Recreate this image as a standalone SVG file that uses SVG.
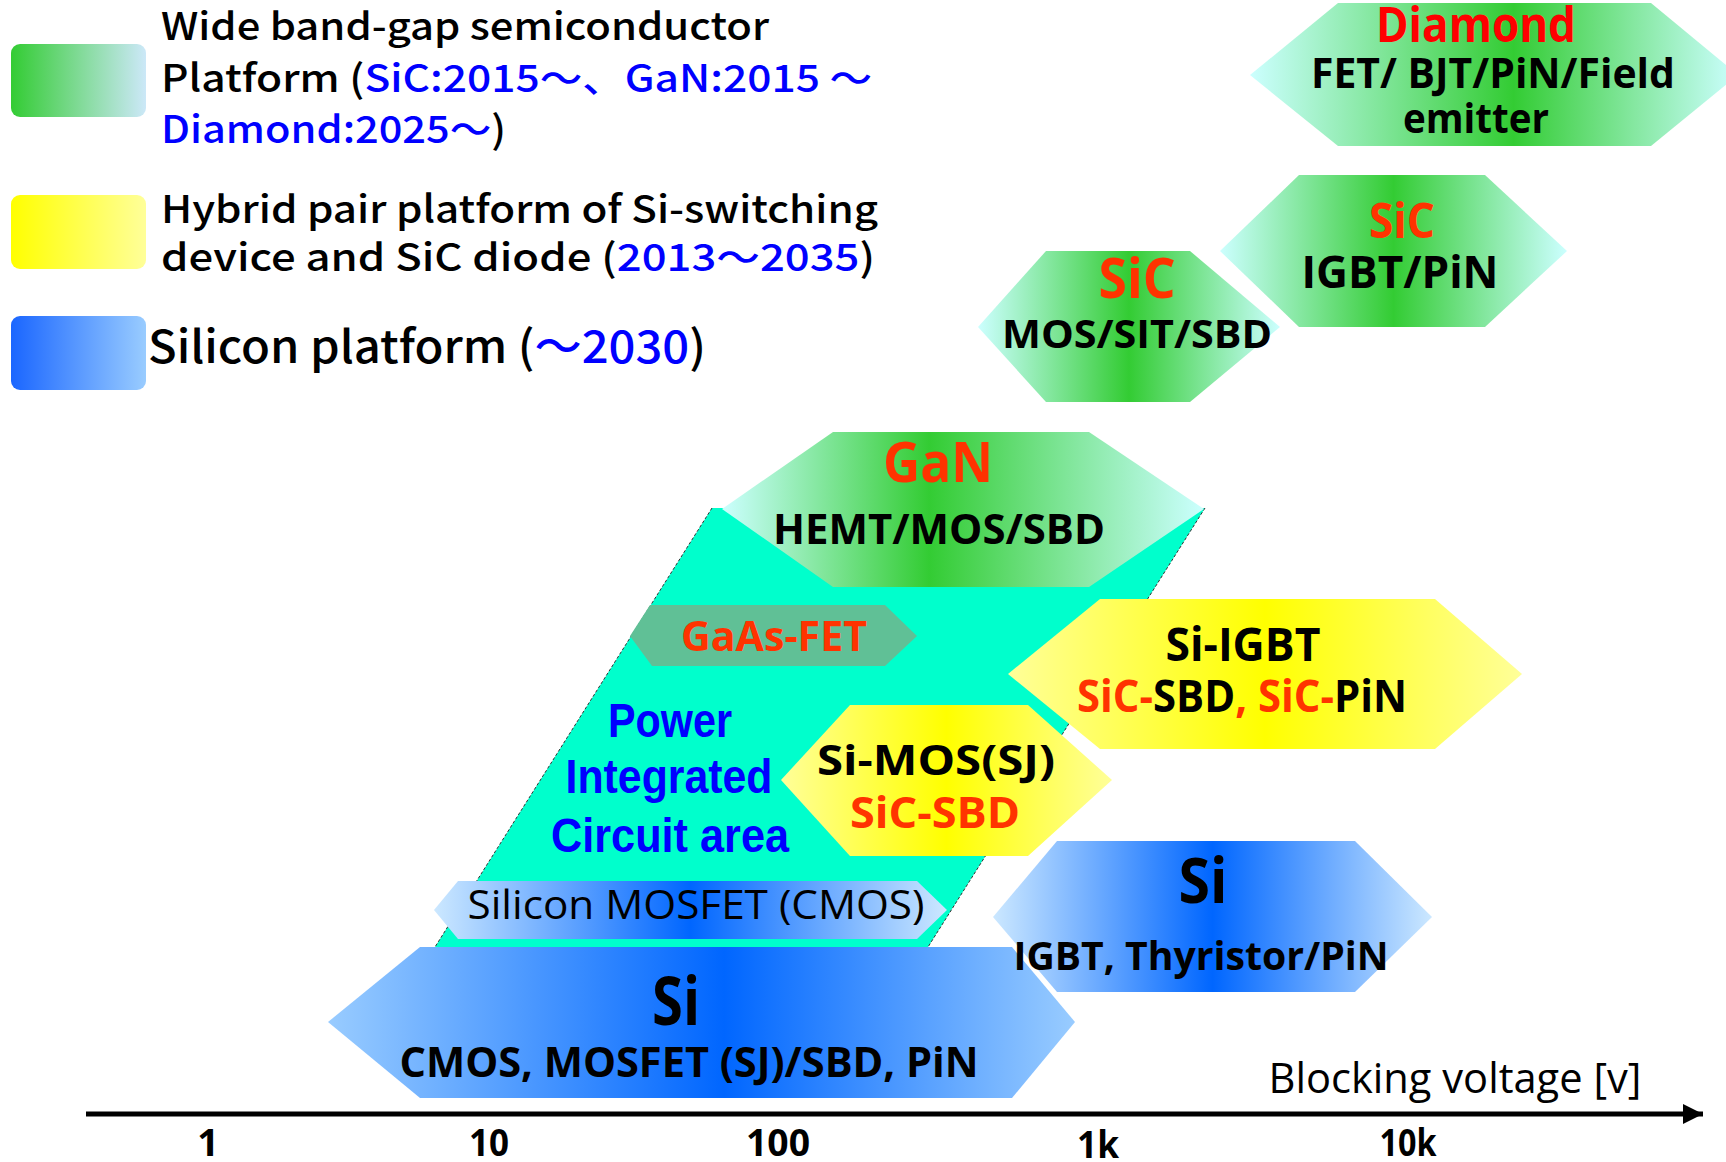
<svg xmlns="http://www.w3.org/2000/svg" width="1726" height="1162" viewBox="0 0 1726 1162">
<style>
.c{font-family:"Open Sans","Liberation Sans",sans-serif;font-weight:bold;text-anchor:middle;fill:#000}
.cr{font-family:"Open Sans","Liberation Sans",sans-serif;font-weight:normal;text-anchor:middle;fill:#000}
.red{fill:#ff3300}
.lg{font-family:"Noto Sans CJK JP","Noto Sans",sans-serif;font-weight:500;fill:#000}
.bl{fill:#0000ff}
.pic{font-family:"Liberation Sans",Arial,sans-serif;font-weight:bold;text-anchor:middle;fill:#0000ff}
</style>
<defs>
<linearGradient id="gG" x1="0" y1="0" x2="1" y2="0">
<stop offset="0" stop-color="#ccffff"/><stop offset="0.5" stop-color="#33cc33"/><stop offset="1" stop-color="#ccffff"/>
</linearGradient>
<linearGradient id="gGan" x1="0" y1="0" x2="1" y2="0">
<stop offset="0" stop-color="#ccffff"/><stop offset="0.43" stop-color="#33cc33"/><stop offset="1" stop-color="#ccffff"/>
</linearGradient>
<linearGradient id="gDia" x1="0" y1="0" x2="1" y2="0">
<stop offset="0" stop-color="#ccffff"/><stop offset="0.54" stop-color="#33cc33"/><stop offset="1" stop-color="#ccffff"/>
</linearGradient>
<linearGradient id="gY" x1="0" y1="0" x2="1" y2="0">
<stop offset="0" stop-color="#ffff99"/><stop offset="0.5" stop-color="#ffff00"/><stop offset="1" stop-color="#ffff99"/>
</linearGradient>
<linearGradient id="gB" x1="0" y1="0" x2="1" y2="0">
<stop offset="0" stop-color="#cce8ff"/><stop offset="0.5" stop-color="#0066ff"/><stop offset="1" stop-color="#cce8ff"/>
</linearGradient>
<linearGradient id="gB2" x1="0" y1="0" x2="1" y2="0">
<stop offset="0" stop-color="#99ccff"/><stop offset="0.53" stop-color="#0066ff"/><stop offset="1" stop-color="#99ccff"/>
</linearGradient>
<linearGradient id="lG" x1="0" y1="0" x2="1" y2="0">
<stop offset="0" stop-color="#33cc33"/><stop offset="1" stop-color="#cce8f8"/>
</linearGradient>
<linearGradient id="lY" x1="0" y1="0" x2="1" y2="0">
<stop offset="0" stop-color="#ffff00"/><stop offset="1" stop-color="#ffff99"/>
</linearGradient>
<linearGradient id="lB" x1="0" y1="0" x2="1" y2="0">
<stop offset="0" stop-color="#1a66ff"/><stop offset="1" stop-color="#99ccff"/>
</linearGradient>
<marker id="arr" viewBox="0 0 10 10" refX="10" refY="5" markerWidth="4" markerHeight="4" markerUnits="strokeWidth" orient="auto">
<path d="M0,0 L10,5 L0,10 z" fill="#000"/>
</marker>
</defs>

<g id="legend">
<rect x="11" y="44" width="135" height="73" rx="9" fill="url(#lG)"/>
<rect x="11" y="195" width="135" height="74" rx="9" fill="url(#lY)"/>
<rect x="11" y="316" width="135" height="74" rx="9" fill="url(#lB)"/>
<text class="lg" x="161" y="40" font-size="38" textLength="608" lengthAdjust="spacingAndGlyphs">Wide band-gap semiconductor</text>
<text class="lg" x="161" y="92" font-size="38" textLength="711" lengthAdjust="spacingAndGlyphs">Platform (<tspan class="bl">SiC:2015～、GaN:2015 ～</tspan></text>
<text class="lg" x="161" y="143" font-size="38" textLength="345" lengthAdjust="spacingAndGlyphs"><tspan class="bl">Diamond:2025～</tspan>)</text>
<text class="lg" x="161" y="223" font-size="38" textLength="717" lengthAdjust="spacingAndGlyphs">Hybrid pair platform of Si-switching</text>
<text class="lg" x="161" y="271" font-size="38" textLength="714" lengthAdjust="spacingAndGlyphs">device and SiC diode (<tspan class="bl">2013～2035</tspan>)</text>
<text class="lg" x="148" y="363" font-size="45" textLength="558" lengthAdjust="spacingAndGlyphs">Silicon platform (<tspan class="bl">～2030</tspan>)</text>
</g>

<g id="pic-area">
<polygon points="712,508 1205,508 928,947 435,947" fill="#00ffcc"/>
<line x1="712" y1="508" x2="435" y2="947" stroke="#333" stroke-width="1" stroke-dasharray="3 2"/>
<line x1="1205" y1="508" x2="928" y2="947" stroke="#333" stroke-width="1" stroke-dasharray="3 2"/>
<text class="pic" x="670" y="737" font-size="48" textLength="124" lengthAdjust="spacingAndGlyphs">Power</text>
<text class="pic" x="669" y="793" font-size="48" textLength="207" lengthAdjust="spacingAndGlyphs">Integrated</text>
<text class="pic" x="670" y="852" font-size="48" textLength="238" lengthAdjust="spacingAndGlyphs">Circuit area</text>
</g>

<g id="diamond">
<polygon points="1250,75 1338,3 1651,3 1738,75 1651,146 1338,146" fill="url(#gDia)"/>
<text class="c" x="1476" y="42" font-size="49" textLength="200" lengthAdjust="spacingAndGlyphs" style="fill:#ff0000">Diamond</text>
<text class="c" x="1493" y="88" font-size="42" textLength="364" lengthAdjust="spacingAndGlyphs">FET/ BJT/PiN/Field</text>
<text class="c" x="1476" y="133" font-size="42" textLength="146" lengthAdjust="spacingAndGlyphs">emitter</text>
</g>

<g id="sic-igbt">
<polygon points="1220,251 1299,175 1485,175 1567,251 1485,327 1299,327" fill="url(#gG)"/>
<text class="c red" x="1402" y="238" font-size="49" textLength="66" lengthAdjust="spacingAndGlyphs">SiC</text>
<text class="c" x="1400" y="288" font-size="44" textLength="197" lengthAdjust="spacingAndGlyphs">IGBT/PiN</text>
</g>

<g id="sic-mos">
<polygon points="978,327 1046,251 1190,251 1280,327 1190,402 1046,402" fill="url(#gG)"/>
<text class="c red" x="1137" y="298" font-size="55" textLength="77" lengthAdjust="spacingAndGlyphs">SiC</text>
<text class="c" x="1137" y="348" font-size="40" textLength="270" lengthAdjust="spacingAndGlyphs">MOS/SIT/SBD</text>
</g>

<g id="gan">
<polygon points="722,509 833,432 1089,432 1204,509 1089,587 833,587" fill="url(#gGan)"/>
<text class="c red" x="938" y="482" font-size="55" textLength="110" lengthAdjust="spacingAndGlyphs">GaN</text>
<text class="c" x="939" y="544" font-size="41" textLength="332" lengthAdjust="spacingAndGlyphs">HEMT/MOS/SBD</text>
</g>

<g id="gaas-fet">
<polygon points="630,636 650,605 885,605 917,636 885,666 652,666" fill="#60c096"/>
<text class="c red" x="774" y="651" font-size="41" textLength="186" lengthAdjust="spacingAndGlyphs">GaAs-FET</text>
</g>

<g id="si-igbt-hybrid">
<polygon points="1008,674 1100,599 1435,599 1522,674 1435,749 1100,749" fill="url(#gY)"/>
<text class="c" x="1243" y="661" font-size="46" textLength="155" lengthAdjust="spacingAndGlyphs">Si-IGBT</text>
<text class="c" x="1242" y="712" font-size="44" textLength="330" lengthAdjust="spacingAndGlyphs"><tspan class="red">SiC-</tspan>SBD<tspan class="red">, SiC-</tspan>PiN</text>
</g>

<g id="si-mos-hybrid">
<polygon points="781,780 850,705 1028,705 1112,780 1028,856 850,856" fill="url(#gY)"/>
<text class="c" x="936" y="775" font-size="42" textLength="238" lengthAdjust="spacingAndGlyphs">Si-MOS(SJ)</text>
<text class="c red" x="935" y="828" font-size="43" textLength="170" lengthAdjust="spacingAndGlyphs">SiC-SBD</text>
</g>

<g id="si-cmos-main">
<polygon points="328,1022 420,947 1012,947 1075,1022 1012,1098 420,1098" fill="url(#gB2)"/>
<text class="c" x="676" y="1025" font-size="66" textLength="48" lengthAdjust="spacingAndGlyphs">Si</text>
<text class="c" x="689" y="1077" font-size="41" textLength="579" lengthAdjust="spacingAndGlyphs">CMOS, MOSFET (SJ)/SBD, PiN</text>
</g>

<g id="si-igbt">
<polygon points="993,917 1057,841 1355,841 1432,917 1355,992 1057,992" fill="url(#gB)"/>
<text class="c" x="1203" y="903" font-size="63" textLength="49" lengthAdjust="spacingAndGlyphs">Si</text>
<text class="c" x="1201" y="970" font-size="40" textLength="375" lengthAdjust="spacingAndGlyphs">IGBT, Thyristor/PiN</text>
</g>

<g id="si-mosfet-cmos">
<polygon points="434,910 458,881 917,881 947,910 917,939 458,939" fill="url(#gB)"/>
<text class="cr" x="696" y="919" font-size="41" textLength="457" lengthAdjust="spacingAndGlyphs">Silicon MOSFET (CMOS)</text>
</g>

<g id="connectors">
<line x1="86" y1="1114" x2="1703" y2="1114" stroke="#000" stroke-width="5" marker-end="url(#arr)"/>
</g>

<g id="axis-labels">
<text class="cr" x="1455" y="1093" font-size="42" textLength="373" lengthAdjust="spacingAndGlyphs">Blocking voltage [v]</text>
<text class="c" x="208" y="1156" font-size="38">1</text>
<text class="c" x="489" y="1156" font-size="38" textLength="40" lengthAdjust="spacingAndGlyphs">10</text>
<text class="c" x="778" y="1156" font-size="38" textLength="64" lengthAdjust="spacingAndGlyphs">100</text>
<text class="c" x="1098" y="1158" font-size="38" textLength="42" lengthAdjust="spacingAndGlyphs">1k</text>
<text class="c" x="1408" y="1156" font-size="38" textLength="57" lengthAdjust="spacingAndGlyphs">10k</text>
</g>
</svg>
